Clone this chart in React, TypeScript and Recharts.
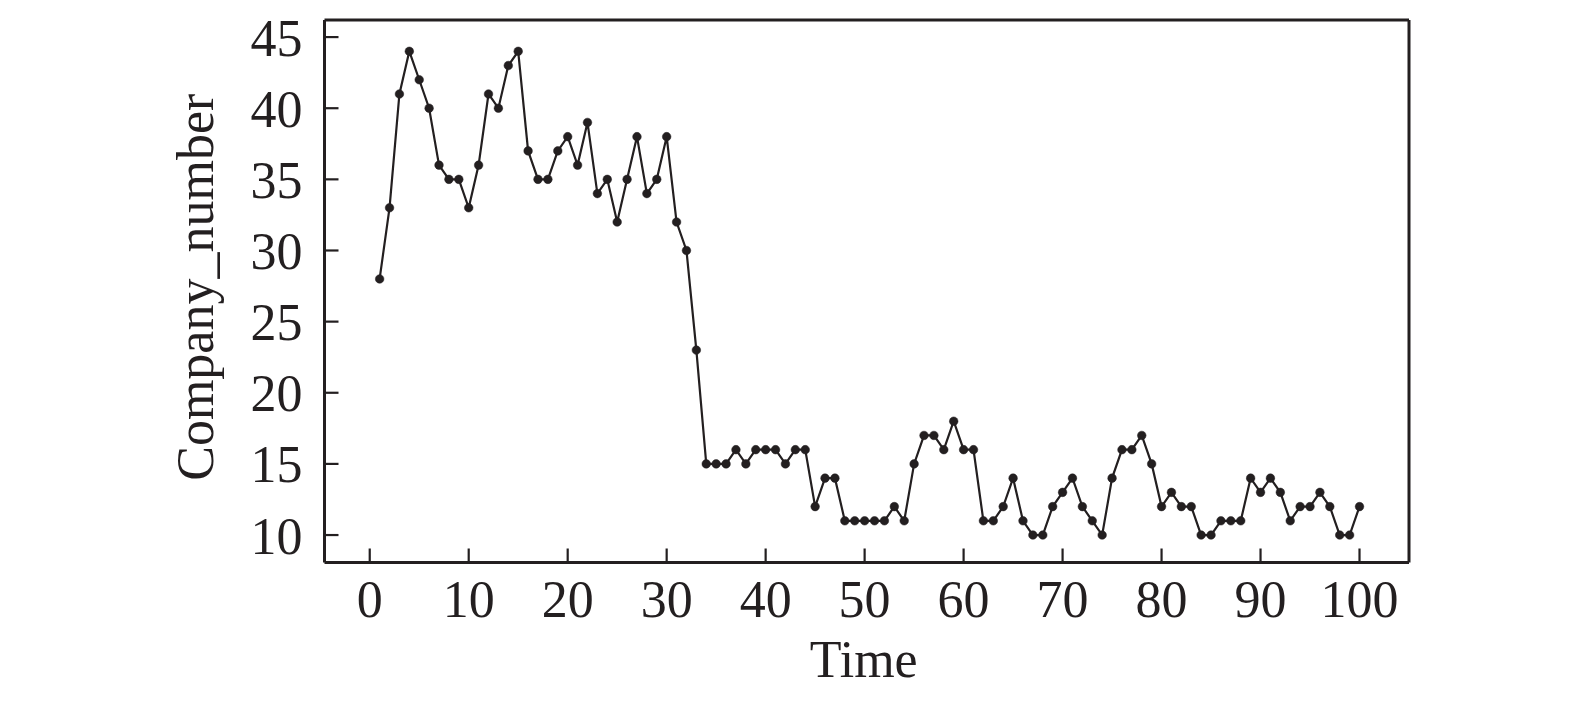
import { Label, Line, LineChart, ReferenceLine, XAxis, YAxis } from "recharts";

const INK = "#231f20";
const FONT = "'Liberation Serif', 'Times New Roman', serif";

// company count per time step, t = 1..100
const times = Array.from({ length: 100 }, (_, i) => i + 1);
const companyNumber = [
  28, 33, 41, 44, 42, 40, 36, 35, 35, 33,
  36, 41, 40, 43, 44, 37, 35, 35, 37, 38,
  36, 39, 34, 35, 32, 35, 38, 34, 35, 38,
  32, 30, 23, 15, 15, 15, 16, 15, 16, 16,
  16, 15, 16, 16, 12, 14, 14, 11, 11, 11,
  11, 11, 12, 11, 15, 17, 17, 16, 18, 16,
  16, 11, 11, 12, 14, 11, 10, 10, 12, 13,
  14, 12, 11, 10, 14, 16, 16, 17, 15, 12,
  13, 12, 12, 10, 10, 11, 11, 11, 14, 13,
  14, 13, 11, 12, 12, 13, 12, 10, 10, 12,
];
const xTicks = [0, 10, 20, 30, 40, 50, 60, 70, 80, 90, 100];
const yTicks = [10, 15, 20, 25, 30, 35, 40, 45];
const xDomain = [-4.57, 105];
const yDomain = [8.07, 46.2];

const data = times.map((t, i) => ({ time: t, value: companyNumber[i] }));

const tickStyle = { fill: INK, fontSize: 52, fontFamily: FONT };
const axisLine = { stroke: INK, strokeWidth: 3 };
const tickLine = { stroke: INK, strokeWidth: 2.2 };

function YLabel(props: any) {
  const vb = props.viewBox;
  const cy = vb.y + vb.height / 2 - 4;
  return (
    <text
      x={213}
      y={cy}
      transform={`rotate(-90, 213, ${cy})`}
      textAnchor="middle"
      fill={INK}
      fontSize={52}
      fontFamily={FONT}
    >
      Company_number
    </text>
  );
}

function XLabel(props: any) {
  const vb = props.viewBox;
  return (
    <text
      x={vb.x + vb.width / 2 - 3}
      y={677}
      textAnchor="middle"
      fill={INK}
      fontSize={52}
      fontFamily={FONT}
    >
      Time
    </text>
  );
}

export default function App() {
  return (
    <div style={{ position: "absolute", left: 0, top: 0, width: 1575, height: 702, background: "#fff" }}>
      <LineChart width={1575} height={702} data={data} margin={{ top: 20, right: 166, bottom: 0, left: 0 }}>
        <XAxis
          dataKey="time"
          type="number"
          domain={xDomain}
          ticks={xTicks}
          interval={0}
          allowDataOverflow
          height={139.5}
          tick={tickStyle}
          tickSize={-14}
          tickMargin={32}
          axisLine={axisLine}
          tickLine={tickLine}
        >
          <Label content={XLabel} />
        </XAxis>
        <YAxis
          type="number"
          domain={yDomain}
          ticks={yTicks}
          interval={0}
          allowDataOverflow
          width={324.5}
          tick={tickStyle}
          tickSize={-14}
          tickMargin={36}
          axisLine={axisLine}
          tickLine={tickLine}
        >
          <Label content={YLabel} />
        </YAxis>
        {/* top and right edges of the frame */}
        <ReferenceLine y={yDomain[1]} stroke={INK} strokeWidth={3} ifOverflow="visible" />
        <ReferenceLine x={xDomain[1]} stroke={INK} strokeWidth={3} ifOverflow="visible" />
        <Line
          type="linear"
          dataKey="value"
          stroke={INK}
          strokeWidth={2.2}
          dot={{ r: 4.3, fill: INK, stroke: INK, strokeWidth: 0.5 }}
          activeDot={false}
          isAnimationActive={false}
        />
      </LineChart>
    </div>
  );
}
